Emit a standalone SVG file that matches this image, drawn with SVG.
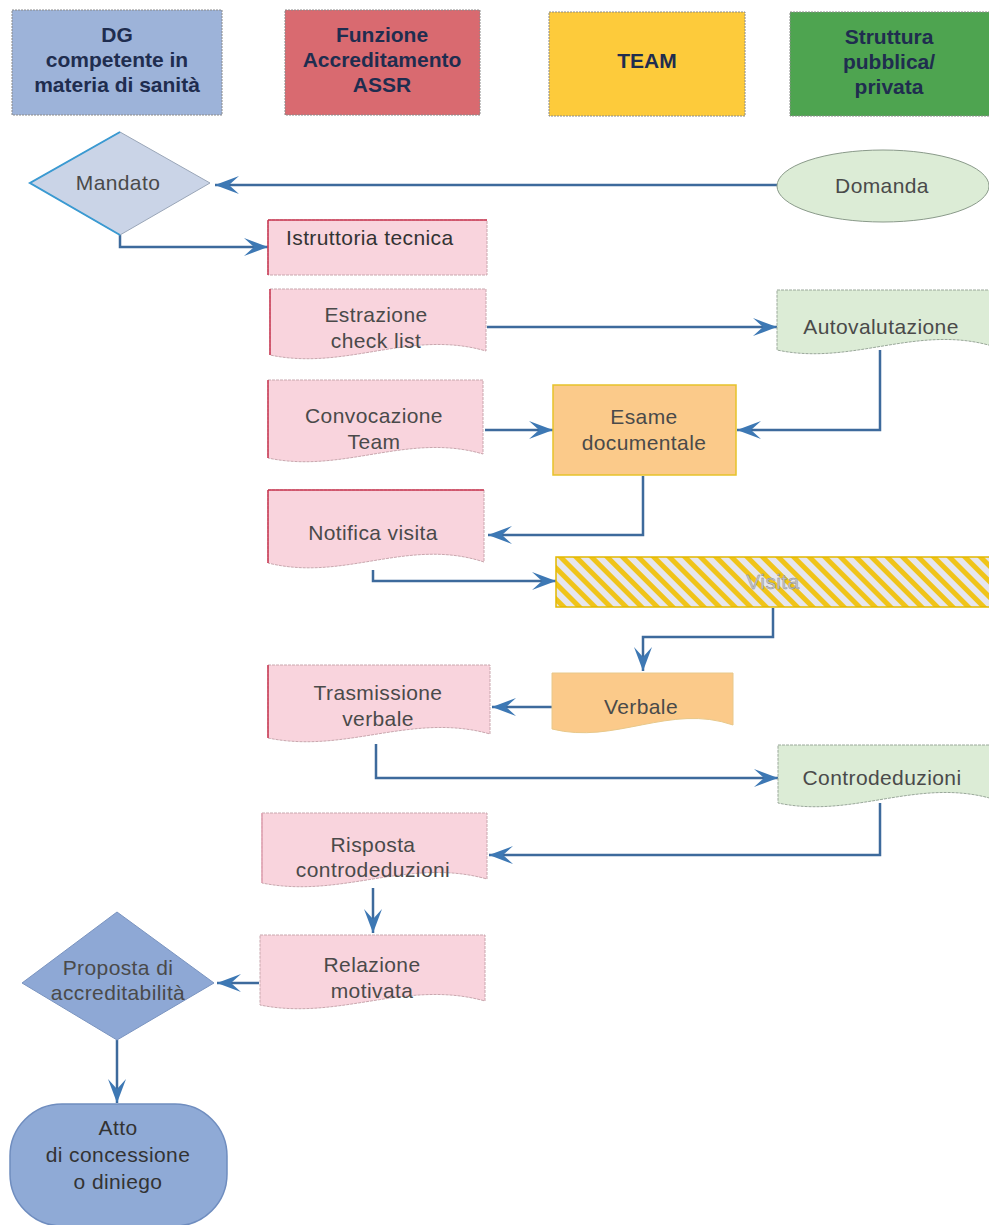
<svg xmlns="http://www.w3.org/2000/svg" width="989" height="1225" viewBox="0 0 989 1225">
<defs>
<style>
.hdr{font-family:"Liberation Sans",Arial,sans-serif;font-weight:bold;font-size:21px;fill:#1f2d4f;text-anchor:middle}
.t{font-family:"Liberation Sans",Arial,sans-serif;font-size:21px;fill:#4a4a4a;text-anchor:middle;letter-spacing:0.4px}
.pink{fill:#f9d4dd;stroke:#c9a7ae;stroke-width:1;stroke-dasharray:3 1}
.green{fill:#dcecd6;stroke:#9aa89a;stroke-width:1;stroke-dasharray:3 1}
.orange{fill:#fbca8a;stroke:#e6c22a;stroke-width:1.5}
.redl{stroke:#c8354f;stroke-width:1.5}
.conn{fill:none;stroke:#3d6a9c;stroke-width:2.5}
</style>
<marker id="arr" markerUnits="userSpaceOnUse" markerWidth="26" markerHeight="20" refX="24" refY="10" orient="auto">
<path d="M0,1 L24,10 L0,19 L10,10 Z" fill="#3d78b4"/>
</marker>
<pattern id="hatch" patternUnits="userSpaceOnUse" width="11" height="11" patternTransform="rotate(-45)">
<rect width="11" height="11" fill="#e6e6ee"/>
<rect width="5" height="11" fill="#f0c419"/>
</pattern>
</defs>

<g id="hdr-dg">
<rect x="12" y="10" width="210" height="105" fill="#9db3d9" stroke="#8a8a8a" stroke-width="1" stroke-dasharray="2 1"/>
<text class="hdr" x="117" y="42">DG</text>
<text class="hdr" x="117" y="67">competente in</text>
<text class="hdr" x="117" y="92">materia di sanità</text>
</g>
<g id="hdr-funzione">
<rect x="285" y="10" width="195" height="105" fill="#d96a70" stroke="#8a8a8a" stroke-width="1" stroke-dasharray="2 1"/>
<text class="hdr" x="382" y="42">Funzione</text>
<text class="hdr" x="382" y="67">Accreditamento</text>
<text class="hdr" x="382" y="92">ASSR</text>
</g>
<g id="hdr-team">
<rect x="549" y="12" width="196" height="104" fill="#fdcb3b" stroke="#8a8a8a" stroke-width="1" stroke-dasharray="2 1"/>
<text class="hdr" x="647" y="68">TEAM</text>
</g>
<g id="hdr-struttura">
<rect x="790" y="12" width="205" height="104" fill="#4ea450" stroke="#8a8a8a" stroke-width="1" stroke-dasharray="2 1"/>
<text class="hdr" x="889" y="44">Struttura</text>
<text class="hdr" x="889" y="69">pubblica/</text>
<text class="hdr" x="889" y="94">privata</text>
</g>

<g id="connectors">
<path class="conn" d="M777,185 H215" marker-end="url(#arr)"/>
<path class="conn" d="M120,235 V247 H268" marker-end="url(#arr)"/>
<path class="conn" d="M487,327 H777" marker-end="url(#arr)"/>
<path class="conn" d="M485,430 H553" marker-end="url(#arr)"/>
<path class="conn" d="M880,350 V430 H737" marker-end="url(#arr)"/>
<path class="conn" d="M643,476 V535 H488" marker-end="url(#arr)"/>
<path class="conn" d="M373,570 V581 H556" marker-end="url(#arr)"/>
<path class="conn" d="M773,608 V637 H643 V671" marker-end="url(#arr)"/>
<path class="conn" d="M552,707 H492" marker-end="url(#arr)"/>
<path class="conn" d="M376,744 V778 H778" marker-end="url(#arr)"/>
<path class="conn" d="M880,803 V855 H489" marker-end="url(#arr)"/>
<path class="conn" d="M373,888 V933" marker-end="url(#arr)"/>
<path class="conn" d="M259,983 H217" marker-end="url(#arr)"/>
<path class="conn" d="M117,1040 V1103" marker-end="url(#arr)"/>
</g>

<g id="mandato">
<path d="M30,183 L120,132 L210,183 L120,235 Z" fill="#cad4e7" stroke="#9aa6b8" stroke-width="1"/>
<path d="M120,235 L30,183 L120,132" fill="none" stroke="#3a9ad2" stroke-width="2"/>
<text class="t" x="118" y="190">Mandato</text>
</g>
<g id="domanda">
<ellipse cx="883" cy="186" rx="106" ry="36" fill="#dcecd6" stroke="#8a9a8a" stroke-width="1"/>
<text class="t" x="882" y="193" fill="#333">Domanda</text>
</g>
<g id="istruttoria">
<rect x="268" y="220" width="219" height="55" class="pink"/>
<line x1="268" y1="220" x2="268" y2="275" class="redl"/>
<line x1="268" y1="220" x2="487" y2="220" class="redl"/>
<text class="t" x="286" y="245" style="text-anchor:start;fill:#333">Istruttoria tecnica</text>
</g>
<g id="estrazione">
<path class="pink" d="M270,289 H486 V351 C410,329 346,371 270,355 Z"/>
<line x1="270" y1="289" x2="270" y2="355" class="redl"/>
<text class="t" x="376" y="322">Estrazione</text>
<text class="t" x="376" y="348">check list</text>
</g>
<g id="autovalutazione">
<path class="green" d="M777,290 H992 V346 C917,324 852,366 777,350 Z"/>
<text class="t" x="881" y="334">Autovalutazione</text>
</g>
<g id="convocazione">
<path class="pink" d="M268,380 H483 V454 C408,432 343,474 268,458 Z"/>
<line x1="268" y1="380" x2="268" y2="458" class="redl"/>
<text class="t" x="374" y="423">Convocazione</text>
<text class="t" x="374" y="449">Team</text>
</g>
<g id="esame">
<rect x="553" y="385" width="183" height="90" class="orange"/>
<text class="t" x="644" y="424">Esame</text>
<text class="t" x="644" y="450">documentale</text>
</g>
<g id="notifica">
<path class="pink" d="M268,490 H484 V562 C408,537 344,582 268,563 Z"/>
<line x1="268" y1="490" x2="268" y2="563" class="redl"/>
<line x1="268" y1="490" x2="484" y2="490" class="redl"/>
<text class="t" x="373" y="540">Notifica visita</text>
</g>
<g id="visita">
<rect x="556" y="557" width="440" height="50" fill="url(#hatch)" stroke="#e2b800" stroke-width="1.5"/>
<text class="t" x="773" y="589" style="fill:#c4c4c4;stroke:#8a8a8a;stroke-width:0.4">Visita</text>
</g>
<g id="verbale">
<path class="orange" d="M552,673 H733 V725 C670,703 615,745 552,729 Z" style="stroke:#e8c88a;stroke-width:1"/>
<text class="t" x="641" y="714">Verbale</text>
</g>
<g id="trasmissione">
<path class="pink" d="M268,665 H490 V734 C412,712 346,754 268,738 Z"/>
<line x1="268" y1="665" x2="268" y2="738" class="redl"/>
<text class="t" x="378" y="700">Trasmissione</text>
<text class="t" x="378" y="726">verbale</text>
</g>
<g id="controdeduzioni">
<path class="green" d="M778,745 H993 V799 C918,777 853,819 778,803 Z"/>
<text class="t" x="882" y="785">Controdeduzioni</text>
</g>
<g id="risposta">
<path class="pink" d="M262,813 H487 V879 C408,857 341,899 262,883 Z"/>
<line x1="262" y1="813" x2="262" y2="883" class="redl" style="stroke:#e0a0b0"/>
<text class="t" x="373" y="852">Risposta</text>
<text class="t" x="373" y="877">controdeduzioni</text>
</g>
<g id="relazione">
<path class="pink" d="M260,935 H485 V1001 C406,979 339,1021 260,1005 Z"/>
<text class="t" x="372" y="972">Relazione</text>
<text class="t" x="372" y="998">motivata</text>
</g>
<g id="proposta">
<path d="M22,983 L117,912 L214,983 L117,1040 Z" fill="#8ea8d5" stroke="#7a94c0" stroke-width="1"/>
<text class="t" x="118" y="975">Proposta di</text>
<text class="t" x="118" y="1000">accreditabilità</text>
</g>
<g id="atto">
<rect x="10" y="1104" width="217" height="122" rx="52" ry="52" fill="#8faad6" stroke="#6f8dbf" stroke-width="1.5"/>
<text class="t" x="118" y="1135" style="fill:#333">Atto</text>
<text class="t" x="118" y="1162" style="fill:#333">di concessione</text>
<text class="t" x="118" y="1189" style="fill:#333">o diniego</text>
</g>
</svg>
